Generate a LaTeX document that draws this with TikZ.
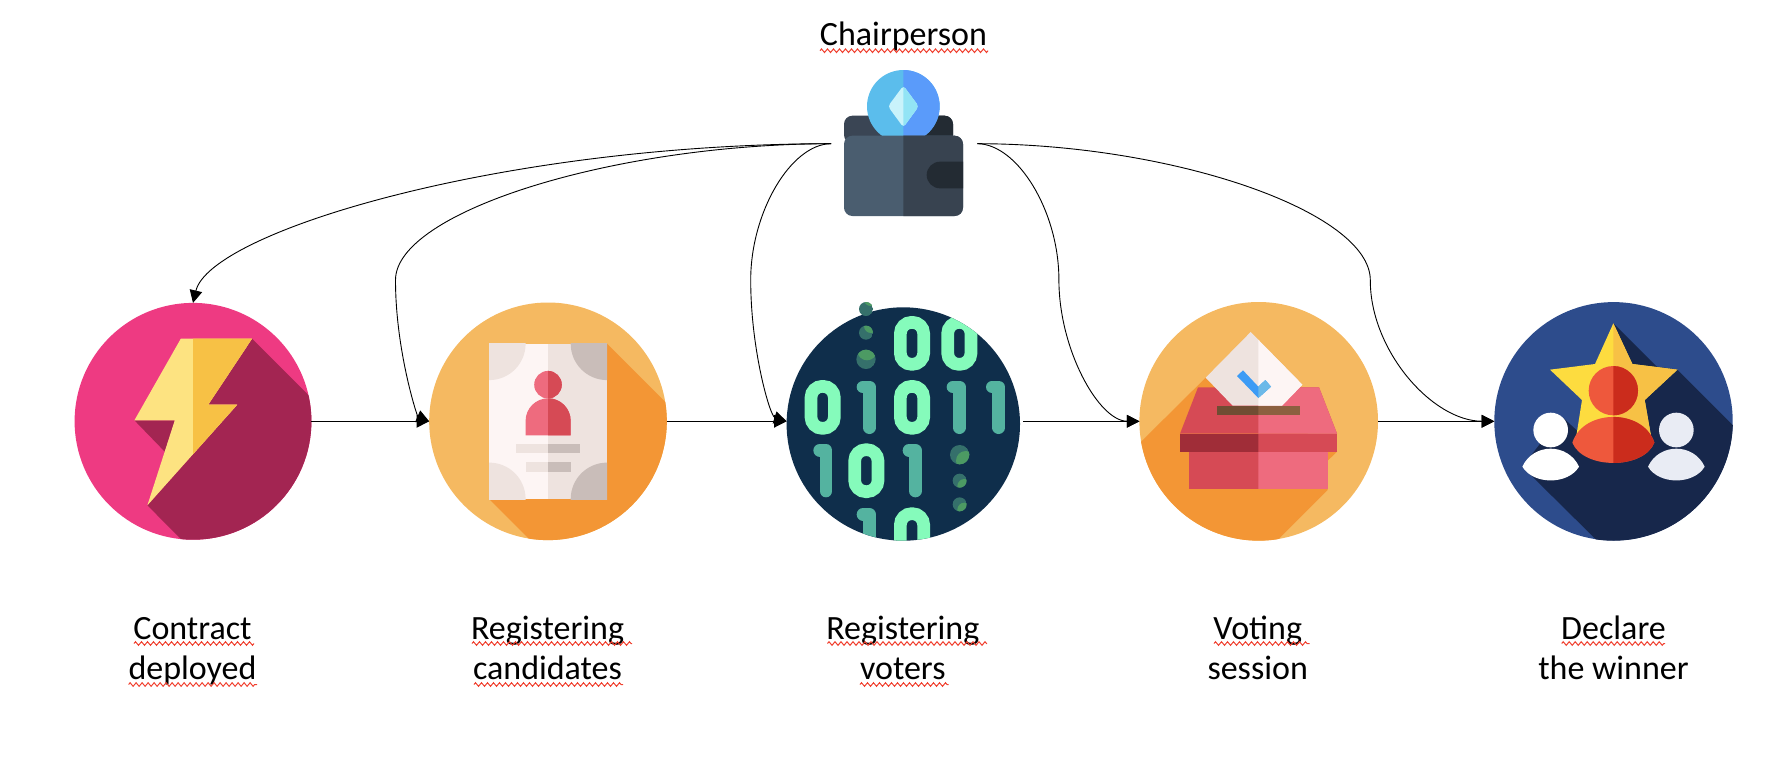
\documentclass[tikz,border=0pt]{standalone}
\usepackage{fontspec}
\setmainfont{Carlito}
\usetikzlibrary{arrows.meta,decorations.pathmorphing}
\definecolor{pinkbg}{HTML}{EE3A82}
\definecolor{pinkdk}{HTML}{A32552}
\definecolor{boltl}{HTML}{FDE381}
\definecolor{boltr}{HTML}{F7C145}
\definecolor{orbg}{HTML}{F5B961}
\definecolor{ordk}{HTML}{F39635}
\definecolor{paperl}{HTML}{FDF5F4}
\definecolor{paperr}{HTML}{EEE3DF}
\definecolor{papergr}{HTML}{C9BDB9}
\definecolor{redl}{HTML}{EE6B7E}
\definecolor{redm}{HTML}{D64A55}
\definecolor{redd}{HTML}{A02D38}
\definecolor{navy}{HTML}{0F2E4B}
\definecolor{dig0}{HTML}{85FBBB}
\definecolor{dig1}{HTML}{54B3A0}
\definecolor{dotd}{HTML}{35706B}
\definecolor{dotl}{HTML}{4C9A63}
\definecolor{slotl}{HTML}{704D33}
\definecolor{slotr}{HTML}{8C6040}
\definecolor{chkl}{HTML}{3C9BF5}
\definecolor{chkr}{HTML}{6CB9E8}
\definecolor{bluebg}{HTML}{2D4C8C}
\definecolor{bluedk}{HTML}{17274B}
\definecolor{stl}{HTML}{FDDC3F}
\definecolor{manl}{HTML}{EE583C}
\definecolor{manr}{HTML}{CB2C1C}
\definecolor{grayp}{HTML}{E9ECF4}
\definecolor{wfl}{HTML}{4A5D6F}
\definecolor{wfr}{HTML}{384350}
\definecolor{wbl}{HTML}{3A4554}
\definecolor{wbr}{HTML}{232B33}
\definecolor{coinl}{HTML}{5BBDEC}
\definecolor{coinr}{HTML}{5A9BFA}
\definecolor{diaml}{HTML}{C9F3FB}
\definecolor{diamr}{HTML}{92E4F5}
\definecolor{wavec}{HTML}{F0402F}
\newcommand{\halves}[4]{\fill[#2] #4; \begin{scope}\clip (#1,-4000) rectangle (8000,4000); \fill[#3] #4; \end{scope}}
\newcommand{\dzero}[2]{\draw[color=dig0,line width=6.33pt,rounded corners=5.6pt] (#1+19,#2+19) rectangle (#1+89,#2+145);}
\newcommand{\done}[2]{\draw[color=dig1,line width=6.33pt,line cap=round,line join=round] (#1+19,#2+21) -- (#1+38,#2+21) -- (#1+38,#2+143);}
\newcommand{\bindot}[5]{\begin{scope}\clip (#1,#2) circle (#3); \fill[dotd] (#1,#2) circle (#3); \fill[dotl] (#1+#4,#2+#5) circle (#3); \end{scope}}
\tikzset{
  disc/.style={circle,inner sep=0pt,outer sep=0pt,minimum size=#1},
  conn/.style={draw=black,line width=0.45pt,-{Triangle[length=6.3pt,width=6.3pt]}},
  flow/.style={draw=black,line width=0.6pt,-{Triangle[length=6.3pt,width=6.3pt]}},
  lbl/.style={font=\fontsize{17}{20}\selectfont,align=center,inner sep=0pt,text=black},
  wave/.style={draw=wavec,line width=0.5pt,decorate,decoration={zigzag,segment length=3pt,amplitude=0.9pt}},
}
\begin{document}
\begin{tikzpicture}[x=0.5pt,y=-0.5pt]
\useasboundingbox (0,0) rectangle (1772,762);
% discs
\node[disc=118.4pt,fill=pinkbg] (n1) at (193,421.3) {};
\node[disc=118.8pt,fill=orbg] (n2) at (548,421.3) {};
\node[disc=116.7pt,fill=navy] (n3) at (903.3,424) {};
\node[disc=119.3pt,fill=orbg] (n4) at (1258.7,421.3) {};
\node[disc=119.2pt,fill=bluebg] (n5) at (1613.5,421.3) {};
% icon 1
\begin{scope}
\clip (n1.center) circle (118.4);
\fill[pinkdk] (252,338.7) -- (452,538.7) -- (260,619) -- (147.4,505.3) -- (237.2,404.7) -- (208.2,404.7) -- cycle;
\fill[pinkdk] (134.4,420.3) -- (174.8,420.3) -- (164.8,451.7) -- cycle;
\halves{193}{boltl}{boltr}{(180.8,338.7) -- (252,338.7) -- (208.2,404.7) -- (237.2,404.7) -- (147.4,505.3) -- (174.8,420.3) -- (134.4,420.3) -- cycle}
\end{scope}
% icon 2
\begin{scope}
\clip (n2.center) circle (118.8);
\fill[ordk] (607.1,343.7) -- (807,543.7) -- (600,610) -- (489.2,499) -- cycle;
\end{scope}
\begin{scope}
\clip (489.2,343.7) rectangle (607.1,499);
\fill[paperl] (489.2,343.7) rectangle (548,499);
\fill[paperr] (548,343.7) rectangle (607.1,499);
\fill[paperr] (489.2,343.7) circle (36.4);
\fill[paperr] (489.2,499) circle (36.4);
\fill[papergr] (607.1,343.7) circle (36.4);
\fill[papergr] (607.1,499) circle (36.4);
\end{scope}
\halves{548}{redl}{redm}{(548,384.7) circle (13.8)}
\halves{548}{redl}{redm}{(525.6,435.3) -- (525.6,420.85) arc[start angle=180,end angle=360,radius=22.55] -- (570.7,435.3) -- cycle}
\halves{548}{paperr}{papergr}{(516,444) rectangle (579.8,453.3)}
\halves{548}{paperr}{papergr}{(525.6,462.3) rectangle (570.7,471.7)}
% icon 3
\begin{scope}[shift={(770,290)},x=0.16667pt,y=-0.16667pt]
\begin{scope}
\clip (400,402) circle (350);
\dzero{372}{78}\dzero{514}{78}
\dzero{104}{270}\done{260}{270}\dzero{372}{270}\done{530}{270}\done{648}{270}
\done{130}{460}\dzero{235}{460}\done{398}{460}
\done{260}{652}\dzero{372}{652}
\end{scope}
\bindot{288}{57}{21}{14}{-30}
\bindot{288}{128}{21}{15}{-20}
\bindot{288}{208}{29}{3}{-26}
\bindot{569}{494}{29}{18}{18}
\bindot{569}{572}{21}{14}{16}
\bindot{569}{643}{21}{14}{16}
\end{scope}
% icon 4
\begin{scope}[shift={(1120,290)},x=0.16667pt,y=-0.16667pt]
\begin{scope}
\clip (416,394) circle (358);
\fill[ordk] (257,263) -- (30,488) -- (200,900) -- (400,823) -- (623,600) -- (623,512) -- (651,485) -- (340,292) -- cycle;
\end{scope}
\halves{415}{redm}{redl}{(234,292) -- (597,292) -- (651,431) -- (180,431) -- cycle}
\halves{415}{paperr}{paperl}{(392,126) -- (547,284) -- (486,347) -- (338,347) -- (257,263) -- cycle}
\halves{415}{slotl}{slotr}{(291,347) rectangle (540,375)}
\halves{415}{redd}{redm}{(180,431) rectangle (651,485)}
\halves{415}{redm}{redl}{(207,485) rectangle (623,598)}
\halves{415}{chkl}{chkr}{(369,241) -- (351,258) -- (415,324) -- (453,290) -- (436,270) -- (415,290) -- cycle}
\end{scope}
% icon 5
\begin{scope}[shift={(1480,290)},x=0.16667pt,y=-0.16667pt]
\begin{scope}
\clip (400.5,394) circle (358);
\fill[bluedk] (400,100) -- (530,230) -- (592,239) -- (800,447) -- (800,800) -- (400,800) -- (127,530) -- (212,420) -- (249,383) -- (300,430) -- (400,300) -- cycle;
\end{scope}
\halves{400}{stl}{boltr}{(400,100) -- (457,222) -- (592,239) -- (494,330) -- (515,450) -- (400,470) -- (287,450) -- (306,330) -- (210,239) -- (345,222) -- cycle}
\halves{400}{manl}{manr}{(400,302) circle (74)}
\halves{400}{manl}{manr}{(277,458) .. controls (310,355) and (490,355) .. (523,458) .. controls (490,539) and (310,539) .. (277,458) -- cycle}
\fill[white] (212,420) circle (52);
\fill[white] (127,530) .. controls (160,458) and (264,458) .. (297,530) .. controls (264,585) and (160,585) .. (127,530) -- cycle;
\fill[grayp] (589,420) circle (52);
\fill[grayp] (504,530) .. controls (537,458) and (641,458) .. (674,530) .. controls (641,585) and (537,585) .. (504,530) -- cycle;
\end{scope}
% wallet
\begin{scope}[shift={(760,0)},x=0.16667pt,y=-0.16667pt]
\halves{430}{wbl}{wbr}{[rounded corners=4.2pt] (252,430) -- (252,347) -- (579,347) -- (579,430) -- cycle}
\halves{430}{coinl}{coinr}{(430,319) circle (109)}
\halves{430}{diaml}{diamr}{[rounded corners=1.6pt] (430,257) -- (476,319) -- (430,382) -- (384,319) -- cycle}
\halves{430}{wfl}{wfr}{[rounded corners=4.2pt] (252,407) -- (609,407) -- (609,648) -- (252,648) -- cycle}
\fill[wbr] (609,485) -- (540,485) arc[start angle=270,end angle=90,radius=40] -- (609,565) -- cycle;
\coordinate (wl) at (213,431);
\coordinate (wr) at (652,431);
\end{scope}
% waypoints of the S-shaped connectors
\coordinate (m2) at (395.5,280);
\coordinate (m3) at (750.7,280);
\coordinate (m4) at (1058.9,280);
\coordinate (m5) at (1370.3,280);
% connectors
\draw[conn] (wl) .. controls (500,144) and (210,232) .. (n1.north);
\draw[conn] (wl) .. controls (613,144) and (395.5,212) .. (m2) .. controls (395.5,350) and (417,416) .. (n2.west);
\draw[conn] (wl) .. controls (791,144) and (750.7,212) .. (m3) .. controls (750.7,350) and (770,416) .. (n3.west |- n2.center);
\draw[conn] (wr) .. controls (1018,144) and (1059,212) .. (m4) .. controls (1059,350) and (1099,421) .. (n4.west);
\draw[conn] (wr) .. controls (1174,144) and (1370,212) .. (m5) .. controls (1370,350) and (1432,421) .. (n5.west);
\draw[flow] (n1.east) -- (n2.west);
\draw[flow] (n2.east) -- (n3.west |- n2.center);
\draw[flow,shorten <=1.5pt] (n3.east |- n4.center) -- (n4.west);
\draw[flow] (n4.east) -- (n5.west);
% labels
\node[lbl,anchor=base] (t0) at (903.5,45) {Chairperson};
\node[lbl,anchor=base] (t1) at (192.5,679) {Contract\\deployed};
\node[lbl,anchor=base] (t2) at (547.5,679) {Registering\\candidates};
\node[lbl,anchor=base] (t3) at (902.8,679) {Registering\\voters};
\node[lbl,anchor=base] (t4) at (1257.7,679) {Voting\\session};
\node[lbl,anchor=base] (t5) at (1613.5,679) {Declare\\the winner};
% spell-check underlines
\draw[wave] (820,50.7) -- (988,50.7);
\draw[wave] (134,643.5) -- (254,643.5);
\draw[wave] (128.6,684.5) -- (257,684.5);
\draw[wave] (472,643.5) -- (632,643.5);
\draw[wave] (474,684.5) -- (623,684.5);
\draw[wave] (827.5,643.5) -- (987,643.5);
\draw[wave] (860,684.5) -- (948.5,684.5);
\draw[wave] (1214,643.5) -- (1309.6,643.5);
\draw[wave] (1561.7,643.5) -- (1665,643.5);
\end{tikzpicture}
\end{document}
